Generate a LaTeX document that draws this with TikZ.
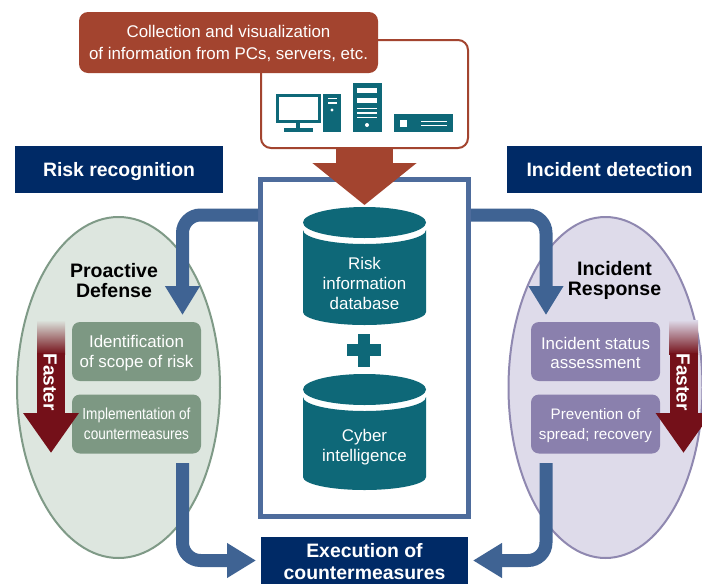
\documentclass[tikz,border=0pt]{standalone}
\usepackage{fontspec}
\setmainfont{Liberation Sans}
\newfontfamily\narrowface[FakeStretch=0.85]{Liberation Sans}
\usetikzlibrary{arrows.meta,shapes.geometric}
\definecolor{teal}{HTML}{0E6878}
\definecolor{navy}{HTML}{002A66}
\definecolor{flowblue}{HTML}{3F6393}
\definecolor{frameblue}{HTML}{4E6C9C}
\definecolor{rust}{HTML}{A3442F}
\definecolor{wine}{HTML}{741019}
\definecolor{sage}{HTML}{7D9883}
\definecolor{sagebg}{HTML}{DDE6DF}
\definecolor{sageline}{HTML}{7F9A87}
\definecolor{lilac}{HTML}{8A80AD}
\definecolor{lilacbg}{HTML}{DEDBEA}
\definecolor{lilacline}{HTML}{8F88B0}
\tikzset{
  body/.style={font=\fontsize{16.9}{19.8}\selectfont,align=center,text=white},
  banner/.style={fill=navy,text=white,font=\fontsize{19.4}{22}\bfseries\selectfont,inner sep=0pt,outer sep=0pt,minimum height=47pt},
  step box/.style={rounded corners=8pt,inner sep=0pt,outer sep=0pt,minimum width=129pt,minimum height=59pt,body},
  head title/.style={font=\fontsize{19.5}{19.5}\bfseries\selectfont,align=center,text=black},
  flow/.style={draw=flowblue,line width=13pt,rounded corners=18pt,-{Triangle[width=33pt,length=29pt]}},
  faster/.style={draw=wine,line width=28pt,-{Triangle[width=53pt,length=40pt]}},
  faster label/.style={font=\fontsize{19}{20}\bfseries\selectfont,text=white,rotate=-90},
  oval/.style={ellipse,inner sep=0pt,outer sep=0pt,line width=2pt},
  icon/.style={fill=teal},
  slot/.style={fill=white}
}
\newcommand{\dbshape}[3]{%
  \fill[teal] (#1,#2+15.5) ellipse [x radius=61.5pt,y radius=15.5pt];
  \fill[teal] (#1-61.5,#2+23) arc[start angle=180,end angle=360,x radius=61.5pt,y radius=14pt]
    -- (#1+61.5,#3) arc[start angle=0,end angle=-180,x radius=61.5pt,y radius=13pt] -- cycle;
}
\begin{document}
\begin{tikzpicture}[x=1pt,y=-1pt]
\useasboundingbox (0,0) rectangle (702,584);
\fill[white] (0,0) rectangle (702,584);
% ovals
\node[oval,draw=sageline,fill=sagebg,minimum width=203pt,minimum height=341pt] (leftoval) at (118.5,387.5) {};
\node[oval,draw=lilacline,fill=lilacbg,minimum width=194pt,minimum height=341pt] (rightoval) at (605.5,387.5) {};
% banners
\node[banner,minimum width=208pt,text height=17pt,text depth=4pt] (riskrec) at (119,169.5) {Risk recognition};
\node[banner,minimum width=195pt,text height=17pt,text depth=4pt] (incdet) at (604.5,169.5) {\hspace*{10pt}Incident detection};
% collection panel
\node[draw=rust,line width=2pt,fill=white,rounded corners=10pt,minimum width=207pt,minimum height=108pt,inner sep=0pt,outer sep=0pt] (panel) at (364.5,94) {};
\node[fill=rust,rounded corners=9pt,minimum width=299pt,minimum height=61pt,inner sep=0pt,outer sep=0pt,body,font=\fontsize{16.9}{22}\selectfont] (collect) at (228.5,42.5) {\rule{0pt}{15pt}Collection and visualization\\of information from PCs, servers, etc.};
% icons
\draw[teal,line width=3pt] (277.5,95.5) rectangle (319.5,121.5);
\fill[icon] (296,123) rectangle (300,128);
\fill[icon] (284,128) rectangle (313,132);
\fill[icon] (323,94) rectangle (341,132);
\fill[slot] (328,97.5) rectangle (337,99);
\fill[slot] (328,102) rectangle (337,103.5);
\fill[slot] (332,110) circle (1.6pt);
\fill[icon] (353,83) rectangle (382,132);
\fill[slot] (357,88) rectangle (377,93);
\fill[slot] (357,98) rectangle (377,103);
\fill[slot] (357,107.5) rectangle (377,109);
\fill[slot] (357,112) rectangle (377,113.5);
\fill[slot] (357,116.5) rectangle (377,118);
\fill[slot] (367,125) circle (2pt);
\fill[icon] (394,114) rectangle (453,132);
\fill[slot] (400,120) rectangle (407,127);
\fill[slot] (421,120.5) rectangle (447,122);
\fill[slot] (421,124.5) rectangle (447,126);
% central frame
\node[draw=frameblue,line width=5pt,fill=white,minimum width=208pt,minimum height=337pt,inner sep=0pt,outer sep=0pt] (frame) at (364.5,348) {};
% red arrow from panel to database
\coordinate (dbtip) at (364.5,205);
\draw[draw=rust,line width=57pt,-{Triangle[width=102pt,length=42pt]}] (panel.south -| dbtip) -- (dbtip);
% databases
\dbshape{364.5}{207}{312}
\node[body] (riskdb) at (364.5,283.5) {Risk\\information\\database};
\fill[teal] (347,344) rectangle (381,356);
\fill[teal] (358,334) rectangle (370,367);
\dbshape{364.5}{374}{477}
\node[body] (cyber) at (364.5,447.5) {Cyber\\intelligence};
% execution
\node[banner,minimum width=207pt] (exec) at (364.5,560.5) {};
\node[banner,fill=none,minimum height=0pt,align=center] (exectext) at (364.5,562) {Execution of\\countermeasures};
% steps
\node[step box,fill=sage] (ident) at (136.5,351.5) {\rule{0pt}{16pt}Identification\\of scope of risk};
\node[step box,fill=sage,font=\narrowface\fontsize{16}{20}\selectfont] (impl) at (136.5,424) {Implementation of\\countermeasures};
\node[step box,fill=lilac] (assess) at (595.5,351.5) {\rule{0pt}{15pt}Incident status\\assessment};
\node[step box,fill=lilac,font=\fontsize{15.2}{20}\selectfont] (prevent) at (595.5,424) {\rule{0pt}{15pt}Prevention of\\spread; recovery};
% titles
\node[head title] (proactive) at (114,280.5) {Proactive\\Defense};
\node[head title] (incresp) at (614.5,280.5) {Incident\\Response};
% blue flows
\coordinate (leftlane) at (258,215);
\coordinate (rightlane) at (471,215);
\coordinate (lefttip) at (182.5,315);
\coordinate (righttip) at (546,315);
\coordinate (leftout) at (182.5,463);
\coordinate (rightout) at (546,463);
\draw[flow] (leftlane) -| (lefttip);
\draw[flow] (rightlane) -| (righttip);
\draw[flow,shorten >=5pt] (leftout) |- (exec.west);
\draw[flow,shorten >=5pt] (rightout) |- (exec.east);
% faster arrows
\shade[top color=sagebg,bottom color=wine] (37,320) rectangle (65,354);
\coordinate (fl1) at (51,353);
\coordinate (fl2) at (51,453);
\draw[faster] (fl1) -- (fl2);
\node[faster label] (fasterL) at (50,382) {Faster};
\shade[top color=lilacbg,bottom color=wine] (669,320) rectangle (698,354);
\coordinate (fr1) at (683.5,353);
\coordinate (fr2) at (683.5,453);
\draw[faster] (fr1) -- (fr2);
\node[faster label] (fasterR) at (683,382) {Faster};
\end{tikzpicture}
\end{document}
